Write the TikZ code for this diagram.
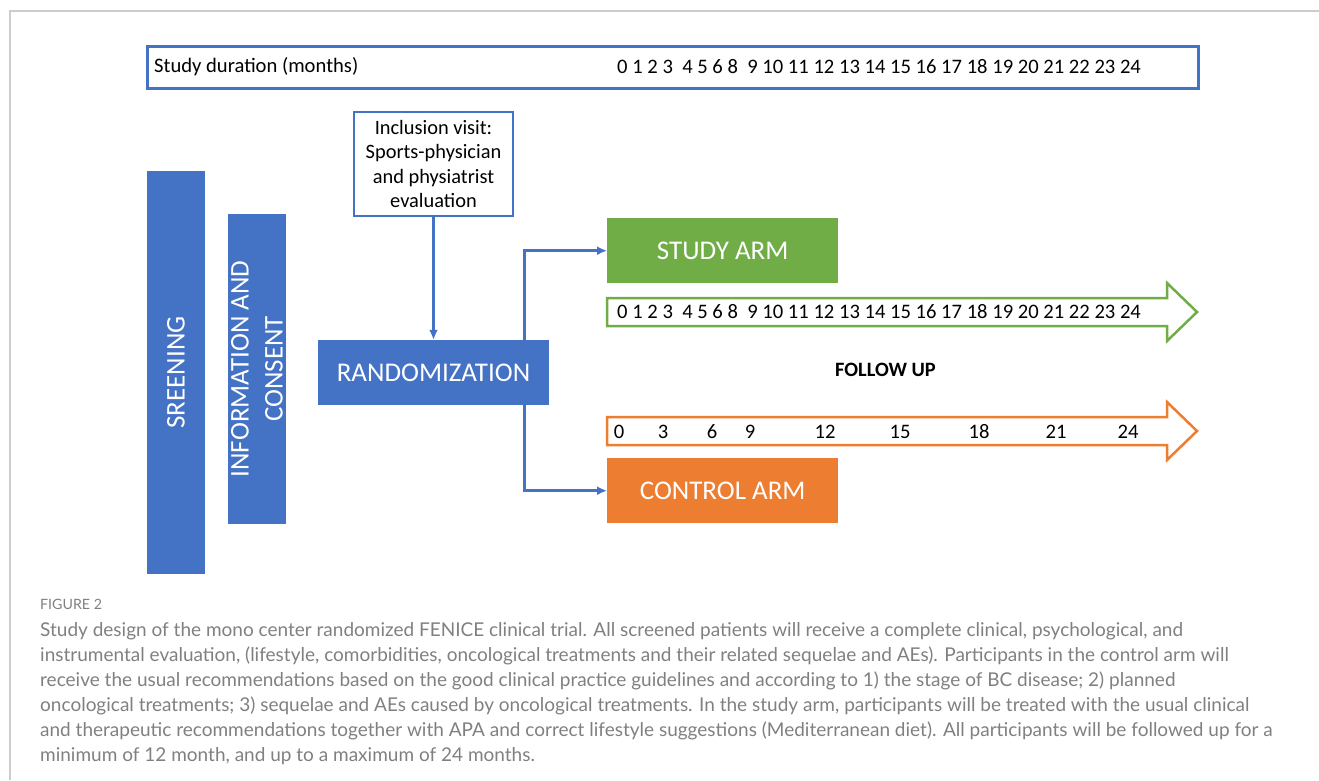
\documentclass[tikz,border=0pt]{standalone}
\usepackage{fontspec}
\setmainfont{Carlito}
\newfontfamily\capfont{Lato}
\usetikzlibrary{arrows.meta,calc}
\definecolor{oblue}{HTML}{4472C4}
\definecolor{ogreen}{HTML}{70AD47}
\definecolor{oorange}{HTML}{ED7D31}
\definecolor{capgray}{HTML}{808080}
\definecolor{framegray}{HTML}{CCCCCC}
\tikzset{
  bluebar/.style={fill=oblue, draw=none, inner sep=0pt, text=white, font=\fontsize{27}{34}\selectfont, align=center},
  armbox/.style={draw=none, inner sep=0pt, text=white, minimum width=231pt, minimum height=65pt, font=\fontsize{27}{32}\selectfont},
  outlinebox/.style={draw=oblue, line width=2.5pt, fill=white, inner sep=0pt},
  conn/.style={draw=oblue, line width=2.8pt, -{Latex[length=10pt,width=9pt]}},
  txt/.style={inner sep=0pt, font=\fontsize{20.6}{24}\selectfont},
  captxt/.style={inner sep=0pt, anchor=base west, text=capgray, font=\capfont\fontsize{19}{22}\selectfont},
  arrowshape/.style={line width=2.5pt, fill=white}
}
\begin{document}
\begin{tikzpicture}[x=1pt,y=-1pt]
\useasboundingbox (0,0) rectangle (1319,780);
% frame
\draw[framegray, line width=1.2pt] (10,780) -- (10,11) -- (1319,11);

% top study duration box
\node[outlinebox, line width=3pt, anchor=north west, minimum width=1051pt, minimum height=42pt] (dur) at (146,45) {};
\node[txt, anchor=west] (durlabel) at (154,67) {Study duration (months)};
\node[txt, anchor=west] (durnums) at (617,67) {0 1 2 3\ \ 4 5 6 8\ \ 9 10 11 12 13 14 15 16 17 18 19 20 21 22 23 24};

% vertical bars
\node[bluebar, rotate=90, minimum width=403pt, minimum height=58pt] (scr) at (176,372.5) {SREENING};
\node[bluebar, rotate=90, minimum width=310pt, minimum height=58pt] (info) at (257,369) {INFORMATION AND\\CONSENT};

% inclusion visit
\node[outlinebox, minimum width=159pt, minimum height=104pt, align=center, font=\fontsize{20.4}{24.5}\selectfont] (incl) at (433.5,164) {Inclusion visit:\\Sports-physician\\and physiatrist\\evaluation};

% randomization
\node[armbox, fill=oblue] (rand) at (433.5,372.5) {RANDOMIZATION};

% arms
\node[armbox, fill=ogreen, anchor=north west] (study) at (607,218) {STUDY ARM};
\node[armbox, fill=oorange, anchor=north west] (control) at (607,458) {CONTROL ARM};

% connectors
\draw[conn] (incl.south) -- (rand.north);
\draw[conn] ([xshift=-25pt]rand.north east) |- (study.west);
\draw[conn] ([xshift=-25pt]rand.south east) |- (control.west);

% follow-up arrows
\draw[arrowshape, draw=ogreen] (607,298) -- (1167,298) -- (1167,283) -- (1197,312) -- (1167,341) -- (1167,326) -- (607,326) -- cycle;
\node[txt, anchor=west] (studynums) at (617,312) {0 1 2 3\ \ 4 5 6 8\ \ 9 10 11 12 13 14 15 16 17 18 19 20 21 22 23 24};

\node[inner sep=0pt, font=\bfseries\fontsize{20.4}{24}\selectfont] (fu) at (885.5,370) {FOLLOW UP};

\draw[arrowshape, draw=oorange] (607,417) -- (1167,417) -- (1167,402) -- (1197,431) -- (1167,460) -- (1167,445) -- (607,445) -- cycle;
\foreach \v/\xx in {0/619,3/663,6/712,9/750,12/825,15/900,18/979,21/1056,24/1128}{
  \node[txt] (c\v) at (\xx,432) {\v};
}

% caption
\node[captxt, font=\capfont\fontsize{14.2}{16}\selectfont] (figlabel) at (40,609) {FIGURE 2};
\node[captxt] (cap1) at (40,636) {Study design of the mono center randomized FENICE clinical trial. All screened patients will receive a complete clinical, psychological, and};
\node[captxt] (cap2) at (40,661) {instrumental evaluation, (lifestyle, comorbidities, oncological treatments and their related sequelae and AEs). Participants in the control arm will};
\node[captxt] (cap3) at (40,686) {receive the usual recommendations based on the good clinical practice guidelines and according to 1) the stage of BC disease; 2) planned};
\node[captxt] (cap4) at (40,711) {oncological treatments; 3) sequelae and AEs caused by oncological treatments. In the study arm, participants will be treated with the usual clinical};
\node[captxt] (cap5) at (40,736) {and therapeutic recommendations together with APA and correct lifestyle suggestions (Mediterranean diet). All participants will be followed up for a};
\node[captxt] (cap6) at (40,761) {minimum of 12 month, and up to a maximum of 24 months.};
\end{tikzpicture}
\end{document}
